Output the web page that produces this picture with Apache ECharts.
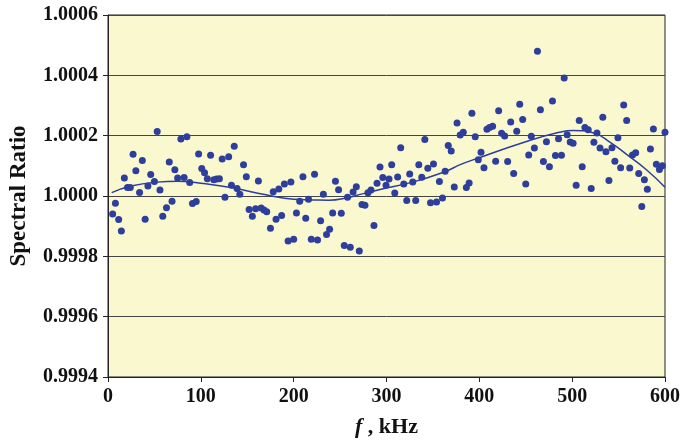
<!DOCTYPE html>
<html><head><meta charset="utf-8">
<script src="https://cdn.jsdelivr.net/npm/echarts@6/dist/echarts.min.js"></script>
<style>html,body{margin:0;padding:0;background:#fff}#c{width:683px;height:443px}</style>
</head><body><div id="c"></div>
<script>
const freq = [5,8,11.5,14.4,17.6,21,24,27,30,34,37,40,43,46,50,53,56,59,63,66,69,72,75,78.5,82,85,88,91,95,97.6,101,104,107,110.5,114,117,120,123,126,130,133,136,139,142,146,149,152,155.5,159,162,165,168,171,175,178,181,184,187,190,194,197,200,203,206.5,210,213,216,219,222.5,225.7,229,232,235.4,238.7,242,245,248.4,251.3,254.5,258,261,264,267.5,270.7,273.6,276.8,280,283.3,286.5,289.8,293,296,299.5,302.7,305.6,308.9,312,315.3,318.6,321.8,325,328.3,331.5,334.8,338,341.3,344.5,347.4,350.6,353.9,357,360.3,363.2,366.5,369.7,373,376,379.4,382.7,386,389,392,395.6,398.9,401.8,405,408.2,411,414.3,417.6,420.8,424,427.3,430.5,433.8,437,440.3,443.5,446.7,450,453.2,456,459.3,462.6,465.8,469,472.3,475.5,478.8,482,485.3,488.5,491.4,494.6,497.9,501,504.3,507.6,510.8,513.7,517.3,520.5,523.4,526.7,530,533,536.4,539.6,542.9,546,549.3,552.2,555.5,558.7,562,565,568.4,571.7,575,577.8,581,584.3,587.5,590.7,594,597.2,600];
const ratio = [0.999940,0.999976,0.999922,0.999884,1.000060,1.000028,1.000028,1.000138,1.000084,1.000012,1.000118,0.999923,1.000033,1.000071,1.000048,1.000214,1.000020,0.999933,0.999961,1.000113,0.999983,1.000087,1.000060,1.000189,1.000061,1.000196,1.000045,0.999975,0.999982,1.000139,1.000091,1.000077,1.000057,1.000135,1.000054,1.000056,1.000057,1.000123,0.999996,1.000130,1.000036,1.000165,1.000025,1.000006,1.000104,1.000064,0.999955,0.999933,0.999958,1.000050,0.999960,0.999954,0.999948,0.999893,1.000014,0.999923,1.000023,0.999935,1.000040,0.999851,1.000046,0.999857,0.999944,0.999983,1.000064,0.999926,0.999989,0.999857,1.000072,0.999854,0.999918,1.000006,0.999872,0.999890,0.999944,1.000049,1.000021,0.999943,0.999836,0.999996,0.999830,1.000013,1.000031,0.999818,0.999972,0.999969,1.000011,1.000020,0.999902,1.000042,1.000096,1.000061,1.000036,1.000056,1.000104,1.000010,1.000063,1.000160,1.000040,0.999985,1.000073,1.000046,0.999985,1.000104,1.000062,1.000187,1.000092,0.999978,1.000106,0.999980,1.000048,0.999993,1.000082,1.000167,1.000149,1.000030,1.000242,1.000202,1.000211,1.000028,1.000043,1.000274,1.000196,1.000120,1.000145,1.000094,1.000221,1.000227,1.000231,1.000115,1.000283,1.000208,1.000199,1.000114,1.000245,1.000075,1.000215,1.000304,1.000254,1.000040,1.000136,1.000198,1.000159,1.000480,1.000286,1.000114,1.000180,1.000097,1.000315,1.000134,1.000190,1.000135,1.000391,1.000203,1.000179,1.000175,1.000036,1.000250,1.000097,1.000227,1.000220,1.000025,1.000178,1.000209,1.000159,1.000261,1.000147,1.000051,1.000160,1.000115,1.000193,1.000094,1.000302,1.000250,1.000093,1.000136,1.000143,1.000075,0.999965,1.000054,1.000022,1.000156,1.000222,1.000105,1.000088,1.000100,1.000211];
const fitFreq = [4,25,53,75,100,134,170,200,220,238,256,274,292,328,364,378.7,400,450,486,501,523,541,559,580,600];
const fitRatio = [1.000011,1.000033,1.000046,1.000049,1.000042,1.000027,1.000004,0.999989,0.999987,0.999986,0.999993,1.000007,1.000021,1.000046,1.000082,1.000103,1.000127,1.000180,1.000211,1.000217,1.000209,1.000178,1.000137,1.000087,1.000029];
const xTicks = [0,100,200,300,400,500,600];
const yTicks = [0.9994,0.9996,0.9998,1.0000,1.0002,1.0004,1.0006];

const font = '"Liberation Serif","DejaVu Serif",serif';
const blue = '#2D3E9C';
const chart = echarts.init(document.getElementById('c'), null, {renderer:'canvas'});
chart.setOption({
  backgroundColor:'#fff',
  animation:false,
  grid:{left:107,right:17,top:15,bottom:65,show:true,backgroundColor:'#FAF8CF',borderColor:'#222',borderWidth:1},
  xAxis:{type:'value',min:xTicks[0],max:xTicks[xTicks.length-1],interval:100,
    axisLine:{onZero:false,lineStyle:{color:'#222'}},
    axisTick:{show:true,length:5,lineStyle:{color:'#222'}},
    splitLine:{show:false},
    axisLabel:{color:'#111',fontFamily:font,fontWeight:'bold',fontSize:20,margin:10},
    name:'{i|f} , kHz',nameLocation:'middle',nameGap:39,
    nameTextStyle:{color:'#111',fontFamily:font,fontWeight:'bold',fontSize:22,
      rich:{i:{fontFamily:font,fontStyle:'italic',fontWeight:'bold',fontSize:22,color:'#111'}}}},
  yAxis:{type:'value',min:0.9994,max:1.0006,interval:0.0002,
    axisLine:{show:true,lineStyle:{color:'#222'}},
    axisTick:{show:true,length:5,lineStyle:{color:'#222'}},
    splitLine:{show:true,lineStyle:{color:'#444',width:1}},
    axisLabel:{color:'#111',fontFamily:font,fontWeight:'bold',fontSize:20,margin:10,
      formatter:v=>{const t=yTicks.find(k=>Math.abs(k-v)<1e-9);return (t!==undefined?t:v).toFixed(4);}},
    name:'Spectral Ratio',nameLocation:'middle',nameGap:77,nameRotate:90,
    nameTextStyle:{color:'#111',fontFamily:font,fontWeight:'bold',fontSize:23}},
  series:[
    {type:'scatter',data:freq.map((f,i)=>[f,ratio[i]]),symbol:'circle',symbolSize:7,
      itemStyle:{color:blue,opacity:1},z:3},
    {type:'line',data:fitFreq.map((f,i)=>[f,fitRatio[i]]),smooth:0.5,showSymbol:false,
      lineStyle:{color:blue,width:1.5},z:4}
  ]
});
</script></body></html>
